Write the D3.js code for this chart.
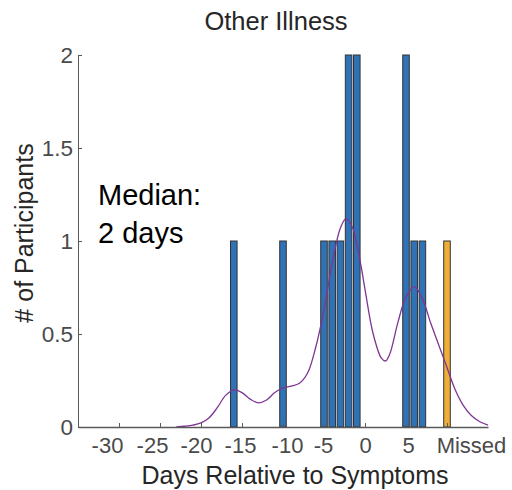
<!DOCTYPE html>
<html>
<head>
<meta charset="utf-8">
<script src="https://cdn.jsdelivr.net/npm/d3@7"></script>
<style>
  html, body { margin: 0; padding: 0; background: #fff; }
  svg { display: block; font-family: "Liberation Sans", Arial, Helvetica, sans-serif; }
</style>
</head>
<body>
<svg id="chart" width="512" height="490"></svg>
<script>
// Participants per day relative to symptom onset
const days   = [-16, -10, -5, -4, -3, -2, -1, 5, 6, 7];
const counts = [  1,   1,  1,  1,  1,  2,  2, 2, 1, 1];

// Participants whose day was missed (plotted at the "Missed" slot)
const missedDay   = 10;
const missedCount = 1;

// Smoothed density overlay (day, height)
const densityDays = [-23, -22, -21, -20, -19, -18, -17, -16, -15, -14, -13, -12, -11, -10, -9, -8, -7, -6, -5, -4, -3, -2.3, -1.5, -1, -0.5, 0, 1, 2, 2.5, 3, 4, 5, 6, 7, 8, 9, 10, 11, 12, 13, 14, 15];
const densityVals = [0, 0.004, 0.01, 0.022, 0.05, 0.105, 0.17, 0.2, 0.185, 0.15, 0.13, 0.145, 0.185, 0.21, 0.22, 0.235, 0.29, 0.43, 0.63, 0.88, 1.07, 1.12, 1.07, 0.98, 0.87, 0.74, 0.5, 0.37, 0.355, 0.39, 0.56, 0.7, 0.755, 0.69, 0.56, 0.44, 0.32, 0.2, 0.115, 0.06, 0.028, 0.01];

// Axis ticks
const xTicks      = [-30, -25, -20, -15, -10, -5, 0, 5, 10];
const xTickLabels = ["-30", "-25", "-20", "-15", "-10", "-5", "0", "5", "Missed"];
const yTicks      = [0, 0.5, 1, 1.5, 2];

const titleText  = "Other Illness";
const xLabelText = "Days Relative to Symptoms";
const yLabelText = "# of Participants";
const noteLines  = ["Median:", "2 days"];

const svg = d3.select("#chart");

const x = d3.scaleLinear().domain([-35, 15]).range([78, 488]);
const y = d3.scaleLinear().domain([0, 2]).range([427, 55]);
const barW = x(0.8) - x(0);

// horizontal nudges applied to the x tick labels
const labelShift = [-12, -8, -5, -2, 4, -1, 0, 2, 24];

// bars
const bars = days.map((d, i) => ({ day: d, n: counts[i], missed: false }))
  .concat([{ day: missedDay, n: missedCount, missed: true }]);

svg.append("g").selectAll("rect")
  .data(bars)
  .join("rect")
  .attr("x", d => x(d.day) - barW / 2)
  .attr("y", d => y(d.n))
  .attr("width", barW)
  .attr("height", d => y(0) - y(d.n))
  .attr("fill", d => d.missed ? "#EFAE3A" : "#2F72B6")
  .attr("stroke", "#333")
  .attr("stroke-width", 1);

// density line
const line = d3.line()
  .x(d => x(d[0]))
  .y(d => y(d[1]))
  .curve(d3.curveCatmullRom.alpha(0.5));

svg.append("path")
  .datum(densityDays.map((d, i) => [d, densityVals[i]]))
  .attr("d", line)
  .attr("fill", "none")
  .attr("stroke", "#7E3594")
  .attr("stroke-width", 1.3);

// x axis
const xAxis = svg.append("g")
  .attr("transform", `translate(0,${y(0)})`)
  .call(d3.axisBottom(x)
    .tickValues(xTicks)
    .tickFormat((d, i) => xTickLabels[i])
    .tickSizeInner(-4)
    .tickSizeOuter(0)
    .tickPadding(10));
xAxis.select(".domain").attr("stroke", "#595959").attr("stroke-width", 1.3);
xAxis.selectAll(".tick line").attr("stroke", "#595959");
xAxis.selectAll(".tick text")
  .attr("font-size", 22)
  .attr("fill", "#4a4a4a")
  .attr("font-family", "Liberation Sans, Arial, sans-serif")
  .attr("dx", (d, i) => labelShift[i]);

// y axis
const yAxis = svg.append("g")
  .attr("transform", `translate(${x(-35)},0)`)
  .call(d3.axisLeft(y)
    .tickValues(yTicks)
    .tickFormat(d3.format("~g"))
    .tickSizeInner(-4)
    .tickSizeOuter(0)
    .tickPadding(5));
yAxis.select(".domain").attr("stroke", "#595959").attr("stroke-width", 1);
yAxis.selectAll(".tick line").attr("stroke", "#595959");
yAxis.selectAll(".tick text")
  .attr("font-size", 22.5)
  .attr("fill", "#4a4a4a")
  .attr("font-family", "Liberation Sans, Arial, sans-serif");

// title and axis labels
svg.append("text")
  .attr("x", 276).attr("y", 30)
  .attr("text-anchor", "middle")
  .attr("font-size", 25.5)
  .attr("fill", "#262626")
  .text(titleText);

svg.append("text")
  .attr("x", 295).attr("y", 484)
  .attr("text-anchor", "middle")
  .attr("font-size", 25)
  .attr("fill", "#262626")
  .text(xLabelText);

svg.append("text")
  .attr("transform", "translate(33,233) rotate(-90)")
  .attr("text-anchor", "middle")
  .attr("font-size", 25)
  .attr("fill", "#262626")
  .text(yLabelText);

// median annotation
svg.append("g").selectAll("text")
  .data(noteLines)
  .join("text")
  .attr("x", 98)
  .attr("y", (d, i) => 205 + i * 38)
  .attr("font-size", 29)
  .attr("fill", "#000")
  .text(d => d);
</script>
</body>
</html>
